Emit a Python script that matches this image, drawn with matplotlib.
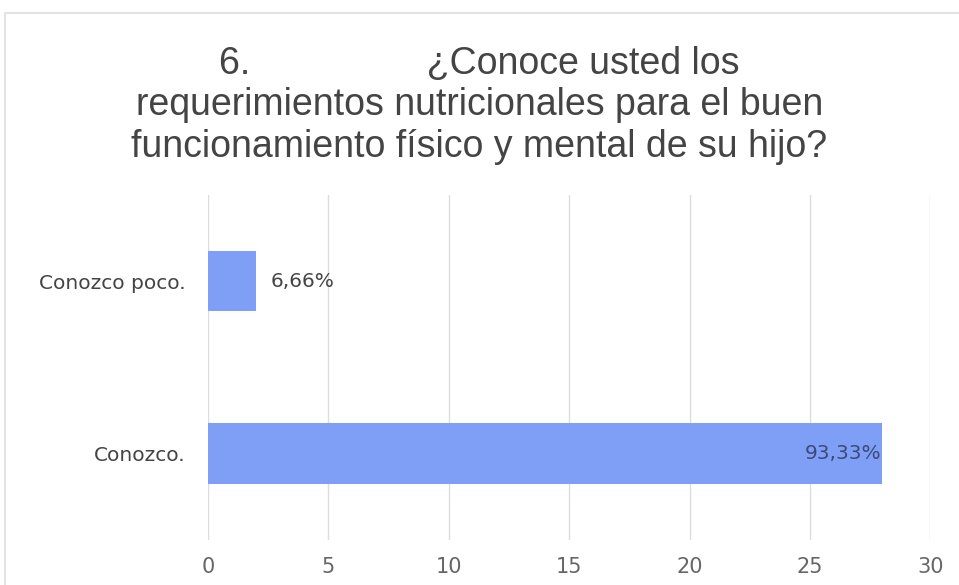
import matplotlib.pyplot as plt
from matplotlib.patches import Rectangle

# data
categories = ['Conozco.', 'Conozco poco.']
counts = [28, 2]
labels = ['93,33%', '6,66%']
xticks = [0, 5, 10, 15, 20, 25, 30]
title = '6.                 ¿Conoce usted los\nrequerimientos nutricionales para el buen\nfuncionamiento físico y mental de su hijo?'

plt.rcParams['font.family'] = ['Liberation Sans', 'DejaVu Sans']
label_font = ['DejaVu Sans']

fig = plt.figure(figsize=(9.59, 5.85), dpi=100)
ax = fig.add_axes([0.217, 0.077, 0.753, 0.59])

# light frame around the chart
fig.patches.append(Rectangle((5 / 959, -0.1), 1.1, 1 - 13 / 585 + 0.1,
                             transform=fig.transFigure, fill=False,
                             edgecolor='#dddddd', linewidth=1.2))

bar_color = '#7f9ef5'
ypos = list(range(len(categories)))
ax.barh(ypos, counts, height=0.35, color=bar_color)

for y, v, lab in zip(ypos, counts, labels):
    if v > 10:
        ax.text(v - 0.05, y, lab, ha='right', va='center', fontsize=14.5,
                color='#3b4a78', family=label_font)
    else:
        ax.text(v + 0.6, y, lab, ha='left', va='center', fontsize=14.5,
                color='#444444', family=label_font)

ax.set_xlim(0, 30)
ax.set_ylim(-0.5, 1.5)
ax.set_xticks(xticks)
ax.set_yticks(ypos)
ax.set_yticklabels(categories)
ax.grid(axis='x', color='#dddddd', linewidth=1)
ax.set_axisbelow(True)
for s in ax.spines.values():
    s.set_visible(False)
ax.tick_params(length=0)
ax.tick_params(axis='x', pad=12, labelsize=15, labelcolor='#666666')
ax.tick_params(axis='y', pad=16, labelsize=14.5, labelcolor='#444444')
for t in ax.get_xticklabels() + ax.get_yticklabels():
    t.set_family(label_font)

fig.text(0.5, 0.82, title, ha='center', va='center', fontsize=27,
         color='#444444', linespacing=1.2)

fig.savefig('out.png', dpi=100, facecolor='white')
